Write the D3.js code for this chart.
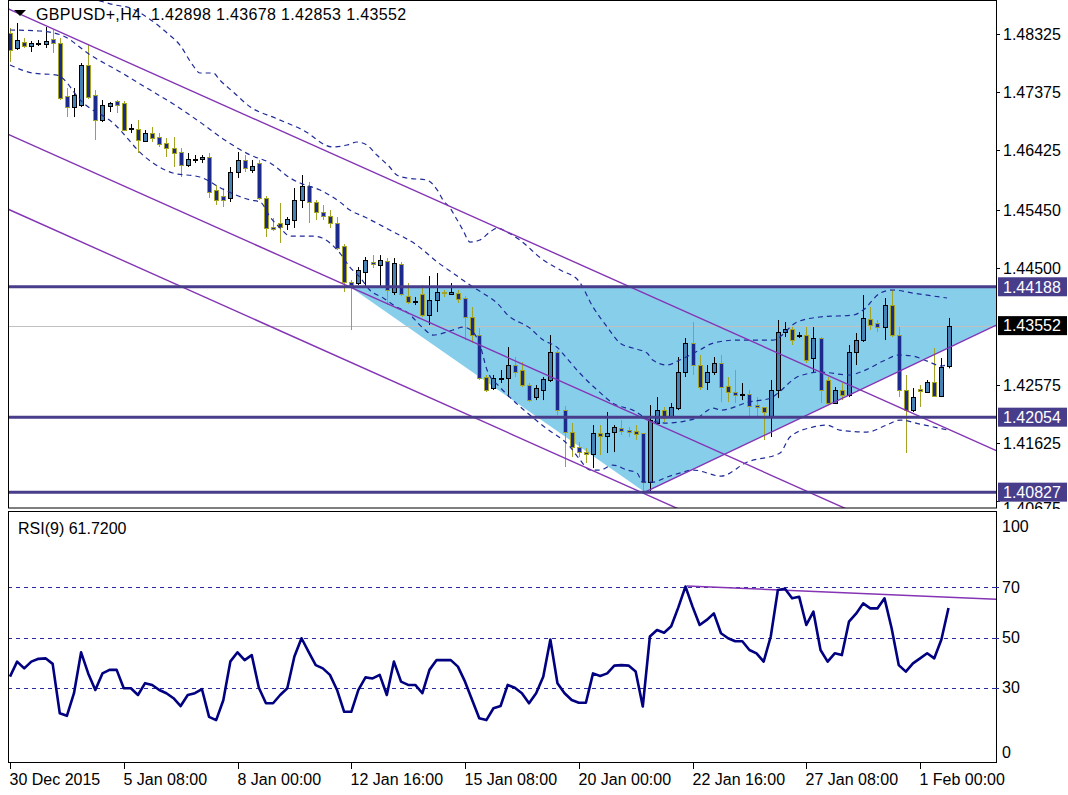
<!DOCTYPE html>
<html><head><meta charset="utf-8">
<script src="https://cdn.jsdelivr.net/npm/d3@7"></script>
<style>body{margin:0;background:#fff;}svg{display:block;font-family:"Liberation Sans",Arial,sans-serif;}</style>
</head><body><svg id="chart" width="1068" height="795"></svg>
<script>
// ---------- DATA ----------
const opens=[1.48341,1.48095,1.48194,1.48128,1.48177,1.48161,1.48243,1.48177,1.47310,1.47129,
1.47162,1.47817,1.47326,1.46917,1.47146,1.47228,1.47195,1.46786,1.46770,1.46573,
1.46704,1.46638,1.46540,1.46458,1.46393,1.46180,1.46279,1.46279,1.46311,1.45772,
1.45673,1.45641,1.46066,1.46262,1.46099,1.46213,1.45641,1.45166,1.45231,1.45215,
1.45280,1.45608,1.45837,1.45575,1.45411,1.45346,1.45231,1.44855,1.44265,1.44249,
1.44429,1.44593,1.44544,1.44609,1.44102,1.44560,1.44036,1.43938,1.44069,1.43725,
1.43971,1.44102,1.44069,1.44086,1.44004,1.43693,1.43398,1.42711,1.42531,1.42695,
1.42695,1.42907,1.42826,1.42580,1.42383,1.42498,1.42662,1.43120,1.42170,1.41810,
1.41565,1.41483,1.41450,1.41794,1.41745,1.41810,1.41876,1.41843,1.41827,1.41794,
1.40993,1.41958,1.42170,1.42056,1.42203,1.42793,1.43267,1.42907,1.42629,1.42793,
1.42940,1.42564,1.42465,1.42432,1.42432,1.42252,1.42220,1.42056,1.42498,1.43447,
1.43496,1.43398,1.43398,1.43022,1.43349,1.42662,1.42285,1.42498,1.42416,1.43120,
1.43316,1.43660,1.43595,1.43529,1.43889,1.43398,1.42498,1.42170,1.42514,1.42465,
1.42629,1.42400,1.42898];
const highs=[1.48423,1.48505,1.48259,1.48210,1.48226,1.48439,1.48390,1.48259,1.47441,1.47441,
1.47850,1.48144,1.47408,1.47244,1.47211,1.47244,1.47228,1.46851,1.46917,1.46753,
1.46802,1.46704,1.46622,1.46638,1.46458,1.46377,1.46344,1.46344,1.46377,1.45854,
1.45804,1.46148,1.46393,1.46344,1.46262,1.46262,1.45673,1.45313,1.45559,1.45330,
1.45804,1.46017,1.45902,1.45608,1.45526,1.45444,1.45330,1.44887,1.44298,1.44511,
1.44675,1.44707,1.44707,1.44658,1.44658,1.44593,1.44249,1.44020,1.44216,1.44364,
1.44413,1.44135,1.44249,1.44135,1.44036,1.43856,1.43513,1.42744,1.42744,1.42826,
1.43202,1.43038,1.42956,1.42613,1.42580,1.42711,1.43398,1.43153,1.42236,1.41958,
1.41647,1.41548,1.41925,1.41925,1.42138,1.41925,1.42007,1.41892,1.41925,1.41794,
1.42252,1.42383,1.42220,1.42285,1.43038,1.43349,1.43611,1.43071,1.42907,1.43038,
1.43071,1.42711,1.42826,1.42613,1.42498,1.42383,1.42220,1.42662,1.43644,1.43611,
1.43529,1.43447,1.43529,1.43529,1.43365,1.42711,1.42547,1.42613,1.43235,1.43431,
1.44053,1.43856,1.43644,1.44004,1.44135,1.43529,1.42744,1.42531,1.42580,1.42662,
1.43185,1.43022,1.43678];
const lows=[1.47867,1.48063,1.48095,1.48030,1.48128,1.48095,1.48014,1.47244,1.46966,1.46966,
1.47129,1.47260,1.46589,1.46884,1.47048,1.47031,1.46737,1.46704,1.46377,1.46557,
1.46557,1.46475,1.46311,1.46148,1.45984,1.46148,1.46213,1.46213,1.45641,1.45526,
1.45493,1.45575,1.45968,1.46066,1.46050,1.45608,1.45003,1.45100,1.44904,1.45117,
1.45150,1.45477,1.45231,1.45280,1.45280,1.45150,1.44789,1.44102,1.43480,1.44216,
1.44184,1.44495,1.44184,1.43889,1.44053,1.44036,1.43905,1.43889,1.43693,1.43562,
1.43775,1.44020,1.44053,1.43922,1.43316,1.43267,1.42662,1.42465,1.42498,1.42613,
1.42383,1.42711,1.42547,1.42301,1.42334,1.42334,1.42629,1.42089,1.41238,1.41402,
1.41402,1.41303,1.41221,1.41434,1.41467,1.41483,1.41761,1.41729,1.41680,1.40829,
1.40827,1.41941,1.41974,1.42040,1.42170,1.42711,1.42744,1.42498,1.42498,1.42744,
1.42301,1.42301,1.42285,1.42334,1.42056,1.42056,1.41680,1.41729,1.42367,1.43365,
1.43235,1.43349,1.42940,1.42793,1.42285,1.42252,1.42269,1.42334,1.42383,1.42907,
1.43284,1.43480,1.43447,1.43316,1.43365,1.42383,1.41467,1.42138,1.42220,1.42449,
1.42400,1.42383,1.42853];
const closes=[1.48063,1.48226,1.48128,1.48177,1.48180,1.48210,1.48177,1.47277,1.47129,1.47326,
1.47817,1.47293,1.46917,1.47162,1.47195,1.47162,1.46753,1.46789,1.46589,1.46704,
1.46622,1.46524,1.46458,1.46377,1.46180,1.46279,1.46282,1.46311,1.45739,1.45608,
1.45608,1.46066,1.46262,1.46131,1.46164,1.45641,1.45150,1.45133,1.45166,1.45297,
1.45608,1.45837,1.45575,1.45411,1.45346,1.45231,1.44822,1.44265,1.44216,1.44462,
1.44625,1.44560,1.44625,1.44135,1.44576,1.44069,1.43938,1.43954,1.43725,1.43971,
1.44102,1.44086,1.44102,1.43987,1.43693,1.43398,1.42695,1.42498,1.42695,1.42698,
1.42907,1.42793,1.42580,1.42334,1.42531,1.42678,1.43120,1.42170,1.41810,1.41565,
1.41483,1.41450,1.41794,1.41745,1.41794,1.41892,1.41827,1.41810,1.41778,1.40993,
1.42007,1.42170,1.42040,1.42220,1.42793,1.43267,1.42907,1.42547,1.42793,1.42940,
1.42547,1.42465,1.42416,1.42435,1.42236,1.42220,1.42138,1.42498,1.43447,1.43496,
1.43316,1.43401,1.42989,1.43349,1.42498,1.42285,1.42498,1.42416,1.43120,1.43316,
1.43676,1.43562,1.43529,1.43889,1.43398,1.42498,1.42170,1.42383,1.42481,1.42629,
1.42400,1.42875,1.43552];
const rsiValues=[34.4,40.4,37.7,40.4,41.5,41.7,39.5,19.8,18.8,27.8,
44.1,35.7,29.1,35.7,37.1,37.1,29.8,29.8,27.1,31.8,
31.1,29.1,27.8,25.8,22.7,27.1,27.8,29.4,18.4,17.1,
25.0,40.5,44.1,41.0,43.0,30.0,23.8,23.8,27.1,29.8,
42.4,49.7,44.3,39.0,37.7,35.1,29.1,20.4,20.4,29.1,
34.1,33.7,35.1,27.1,40.4,32.4,31.1,31.1,27.8,37.1,
41.0,41.0,41.0,38.4,32.4,25.1,17.8,17.1,21.8,22.7,
31.1,30.0,27.8,23.8,27.8,34.4,49.2,31.8,27.8,25.1,
24.0,24.0,35.7,34.7,35.7,38.8,39.0,38.8,36.5,22.5,
50.4,53.0,51.9,54.5,62.0,70.3,62.3,55.0,57.0,59.6,
51.7,49.7,48.5,48.5,45.0,43.7,40.4,50.4,68.9,69.4,
65.6,66.2,55.0,60.3,45.0,40.4,43.7,43.0,56.3,59.5,
63.6,61.6,61.6,65.6,53.7,39.0,36.4,39.7,41.7,43.7,
41.7,49.2,61.72];
// Bollinger band points: [bar index, price]
const upperBand=[[11.3,1.48914],[14.8,1.48799],[16.9,1.48750],[19.0,1.48619],[22.1,1.48341],[23.9,1.48144],[25.7,1.47817],[26.7,1.47686],[28.6,1.47686],[29.5,1.47572],[31.4,1.47375],[33.8,1.47130],[37.3,1.46950],[41.2,1.46753],[45.4,1.46475],[47.4,1.46508],[48.8,1.46557],[50.2,1.46508],[51.6,1.46344],[53.4,1.46148],[54.4,1.46017],[55.8,1.45968],[58.6,1.45935],[60.1,1.45771],[60.9,1.45608],[61.9,1.45477],[62.9,1.45280],[63.7,1.45117],[64.7,1.44920],[66.1,1.44953],[67.5,1.45084],[68.6,1.45149],[69.9,1.45084],[71.7,1.44953],[75.0,1.44626],[77.4,1.44462],[80.0,1.44282],[82.0,1.43856],[84.0,1.43529],[85.8,1.43267],[87.6,1.43185],[89.6,1.43103],[90.4,1.42989],[92.4,1.42907],[94.2,1.42989],[97.0,1.43153],[98.9,1.43267],[102.3,1.43316],[107.3,1.43316],[110.7,1.43611],[113.9,1.43693],[118.6,1.43725],[120.0,1.43807],[122.4,1.44085],[124.2,1.44135],[127.0,1.44085],[131.8,1.44004]];
const middleBand=[[0,1.48390],[4.2,1.48374],[7.5,1.48292],[11.3,1.47981],[15.5,1.47703],[19.0,1.47457],[23.2,1.47162],[26.7,1.46884],[30.2,1.46590],[33.8,1.46344],[36.6,1.46213],[39.4,1.45968],[40.8,1.45886],[43.6,1.45771],[46.4,1.45575],[47.8,1.45444],[49.9,1.45329],[53.4,1.45117],[57.2,1.44871],[60.1,1.44593],[62.9,1.44364],[64.7,1.44216],[66.5,1.44085],[68.5,1.43922],[70.0,1.43725],[73.1,1.43513],[75.0,1.43316],[76.9,1.43202],[78.3,1.43022],[80.0,1.42792],[82.6,1.42498],[85.0,1.42269],[87.6,1.42170],[90.0,1.42007],[92.4,1.41958],[94.9,1.41990],[96.6,1.42040],[98.9,1.42203],[100.0,1.42170],[103.9,1.42301],[107.0,1.42367],[108.0,1.42449],[110.7,1.42711],[112.0,1.42760],[113.9,1.42793],[118.0,1.42744],[120.0,1.42809],[123.1,1.42989],[125.0,1.43071],[127.0,1.43054],[129.0,1.42972],[131.0,1.42891],[132.0,1.42923]];
const lowerBand=[[0,1.47817],[3.2,1.47686],[6.6,1.47653],[10.3,1.47195],[14.5,1.46868],[19.0,1.46311],[22.9,1.46050],[26.7,1.45984],[30.2,1.45771],[33.8,1.45608],[35.2,1.45575],[36.6,1.45329],[38.0,1.45149],[39.4,1.45018],[42.6,1.45018],[43.9,1.44986],[45.0,1.44904],[46.4,1.44740],[47.8,1.44511],[49.2,1.44347],[50.6,1.44135],[52.5,1.44004],[54.4,1.43856],[55.8,1.43775],[58.1,1.43513],[59.5,1.43398],[62.3,1.43480],[63.7,1.43529],[65.0,1.43463],[66.1,1.43234],[67.1,1.42825],[68.9,1.42547],[70.0,1.42416],[75.0,1.41909],[78.8,1.41565],[80.2,1.41352],[81.6,1.41189],[83.0,1.41189],[84.8,1.41270],[86.8,1.41189],[88.2,1.41139],[89.0,1.40992],[90.4,1.40992],[92.4,1.41074],[94.2,1.41139],[96.1,1.41189],[100.0,1.41090],[103.7,1.41320],[108.3,1.41467],[109.7,1.41729],[112.9,1.41892],[114.9,1.41925],[116.7,1.41843],[120.5,1.41810],[123.3,1.41925],[125.2,1.42007],[128.0,1.41941],[131.9,1.41843]];
const channelLines=[[[0,1.48722],[130,1.41960]],[[0,1.46671],[100,1.41470]],[[0,1.45444],[80,1.41282]]];
const risingLine=[[89.3,1.40827],[136.4,1.43431]];
const trianglePts=[[47.8,1.44188],[89.3,1.40827],[150.1,1.44188]];
const levelPrices=[1.44188,1.42054,1.40827];
const bidPrice=1.43552;
const priceTicks=[1.48325,1.47375,1.46425,1.45450,1.44500,1.42575,1.41625,1.40675];
const rsiTicks=[100,70,50,30,0];
const rsiLevels=[70,50,30];
const rsiTrend=[[95.2,70.5],[138.3,65.3]];
const timeTickIdx=[0,16,32,48,64,80,96,112,128];
const timeLabels=["30 Dec 2015","5 Jan 08:00","8 Jan 00:00","12 Jan 16:00","15 Jan 08:00","20 Jan 00:00","22 Jan 16:00","27 Jan 08:00","1 Feb 00:00"];
const headerText="GBPUSD+,H4  1.42898 1.43678 1.42853 1.43552";
const rsiTitle="RSI(9) 61.7200";

// ---------- LAYOUT ----------
const L=8,R=996,mainTop=1,mainBot=508,rsiTop=512,rsiBot=762;
const svg=d3.select('#chart');
const x=d3.scaleLinear().domain([0,132]).range([10,948.5]);
const y=d3.scaleLinear().domain([1.40584,1.48881]).range([507,0]);
const yr=d3.scaleLinear().domain([0,100]).range([763,512]);
const C={bullFill:'#4682B4',bullLine:'#000000',bearFill:'#1C2A8C',bearLine:'#A3A326',
  band:'#1F2B96',chan:'#8434B4',level:'#483D8B',tri:'#87CEEB',bid:'#C0C0C0',rsi:'#000080'};

const defs=svg.append('defs');
defs.append('clipPath').attr('id','cm').append('rect').attr('x',L).attr('y',mainTop).attr('width',R-L).attr('height',mainBot-mainTop);
defs.append('clipPath').attr('id','cr').append('rect').attr('x',L).attr('y',rsiTop).attr('width',R-L).attr('height',rsiBot-rsiTop);
defs.append('clipPath').attr('id','ca').append('rect').attr('x',R).attr('y',0).attr('width',80).attr('height',mainBot+1);

svg.append('rect').attr('width',1068).attr('height',795).attr('fill','#fff');

const gm=svg.append('g').attr('clip-path','url(#cm)');
const line=d3.line().x(d=>x(d[0])).y(d=>y(d[1]));
function extend(a,b,i0,i1){const s=d3.scaleLinear().domain([a[0],b[0]]).range([a[1],b[1]]);return [[i0,s(i0)],[i1,s(i1)]];}

// triangle
gm.append('path').attr('d',line(trianglePts)+'Z').attr('fill',C.tri);
// bid line
gm.append('line').attr('x1',L).attr('x2',R).attr('y1',Math.round(y(bidPrice))+0.5).attr('y2',Math.round(y(bidPrice))+0.5).attr('stroke',C.bid).attr('stroke-width',1);

// candles
const candles=d3.range(opens.length).map(i=>({i,o:opens[i],h:highs[i],l:lows[i],c:closes[i],up:closes[i]>=opens[i]}));
const cg=gm.append('g');
cg.selectAll('line.w').data(candles).join('line').attr('class','w')
 .attr('x1',d=>Math.round(x(d.i))+0.5).attr('x2',d=>Math.round(x(d.i))+0.5)
 .attr('y1',d=>y(d.h)).attr('y2',d=>y(d.l))
 .attr('stroke',d=>d.up?C.bullLine:C.bearLine).attr('stroke-width',1);
cg.selectAll('rect.b').data(candles).join('rect').attr('class','b')
 .attr('x',d=>Math.round(x(d.i))-1.5).attr('width',4)
 .attr('y',d=>Math.round(Math.min(y(d.o),y(d.c)))+0.5)
 .attr('height',d=>Math.max(1,Math.round(Math.abs(y(d.o)-y(d.c)))))
 .attr('fill',d=>d.up?C.bullFill:C.bearFill)
 .attr('stroke',d=>d.up?C.bullLine:C.bearLine).attr('stroke-width',1);

// bands
const bandLine=d3.line().x(d=>x(d[0])).y(d=>y(d[1])).curve(d3.curveMonotoneX);
[upperBand,middleBand,lowerBand].forEach(b=>{
  gm.append('path').attr('d',bandLine(b)).attr('fill','none').attr('stroke',C.band)
   .attr('stroke-width',1.2).attr('stroke-dasharray','5,4');
});
// channel lines
channelLines.forEach(([a,b])=>{
  gm.append('path').attr('d',line(extend(a,b,-2,150))).attr('fill','none').attr('stroke',C.chan).attr('stroke-width',1.4);
});
gm.append('path').attr('d',line(extend(risingLine[0],risingLine[1],risingLine[0][0],150))).attr('fill','none').attr('stroke',C.chan).attr('stroke-width',1.4);
// horizontal levels
levelPrices.forEach(p=>{
  gm.append('line').attr('x1',L).attr('x2',R).attr('y1',y(p)).attr('y2',y(p)).attr('stroke',C.level).attr('stroke-width',3);
});

// header
svg.append('path').attr('d','M14,10L26,10L20,16Z').attr('fill','#000');
svg.append('text').attr('x',36).attr('y',20).attr('font-size',16).attr('letter-spacing',0.35).style('white-space','pre').attr('fill','#000').text(headerText);

// RSI panel
const gr=svg.append('g').attr('clip-path','url(#cr)');
rsiLevels.forEach(v=>{
  gr.append('line').attr('x1',L).attr('x2',R).attr('y1',Math.round(yr(v))+0.5).attr('y2',Math.round(yr(v))+0.5)
   .attr('stroke','#2A2AA0').attr('stroke-width',1.2).attr('stroke-dasharray','4,4');
});
gr.append('path').attr('d',d3.line().x(d=>x(d[0])).y(d=>yr(d[1]))(extend(rsiTrend[0],rsiTrend[1],rsiTrend[0][0],150)))
  .attr('fill','none').attr('stroke',C.chan).attr('stroke-width',1.5);
gr.append('path').datum(rsiValues).attr('d',d3.line().x((d,i)=>x(i)).y(d=>yr(d)))
  .attr('fill','none').attr('stroke',C.rsi).attr('stroke-width',2.6).attr('stroke-linejoin','round');
svg.append('text').attr('x',18).attr('y',534).attr('font-size',16).attr('fill','#000').text(rsiTitle);

// frames
svg.append('rect').attr('x',L+0.5).attr('y',0.5).attr('width',R-L).attr('height',mainBot-0.5).attr('fill','none').attr('stroke','#000');
svg.append('rect').attr('x',L+0.5).attr('y',rsiTop-0.5).attr('width',R-L).attr('height',rsiBot-rsiTop+1).attr('fill','none').attr('stroke','#000');

// price axis
const ga=svg.append('g').attr('clip-path','url(#ca)');
priceTicks.forEach(p=>{
  const yy=Math.round(y(p))+0.5;
  const low=p<1.407;
  ga.append('line').attr('x1',R).attr('x2',R+4).attr('y1',yy).attr('y2',yy).attr('stroke','#000');
  ga.append('text').attr('x',1003).attr('y',low?yy+12:yy).attr('dy',low?'0':'0.36em').attr('font-size',16).attr('fill','#000').text(p.toFixed(5));
});
function priceBox(p,bg){
  const yy=y(p);
  ga.append('rect').attr('x',998).attr('y',yy-9.5).attr('width',69).attr('height',19).attr('fill',bg);
  ga.append('text').attr('x',1003).attr('y',yy).attr('dy','0.36em').attr('font-size',16).attr('fill','#fff').text(p.toFixed(5));
}
levelPrices.forEach(p=>priceBox(p,C.level));
priceBox(bidPrice,'#000');

// rsi axis
rsiTicks.forEach(v=>{
  let yy=yr(v); if(v===100) yy=526; if(v===0) yy=752;
  if(v>0&&v<100) svg.append('line').attr('x1',R-2).attr('x2',R+3).attr('y1',Math.round(yr(v))+0.5).attr('y2',Math.round(yr(v))+0.5).attr('stroke','#2A2AA0');
  svg.append('text').attr('x',1002).attr('y',yy).attr('dy','0.36em').attr('font-size',16).attr('fill','#000').text(v);
});

// time axis
timeTickIdx.forEach((ti,k)=>{
  const xx=Math.round(x(ti))+0.5;
  svg.append('line').attr('x1',xx).attr('x2',xx).attr('y1',rsiBot).attr('y2',rsiBot+7).attr('stroke','#000');
  svg.append('text').attr('x',xx-1).attr('y',785).attr('font-size',16).attr('fill','#000').text(timeLabels[k]);
});
</script></body></html>
